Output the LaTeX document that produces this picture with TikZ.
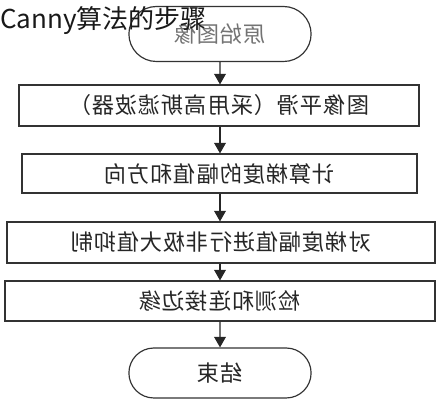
\documentclass[tikz,border=0pt]{standalone}
\usepackage{fontspec}
\usepackage{graphicx}
\usetikzlibrary{shapes.misc}
\usetikzlibrary{positioning}
\usetikzlibrary{arrows.meta}
\newfontfamily\cjk{Noto Sans CJK SC}
\newfontfamily\cjkwide[LetterSpace=4]{Noto Sans CJK SC}
\newcommand{\mirror}[1]{\reflectbox{#1}}

\begin{document}
\begin{tikzpicture}[x=0.03cm, y=-0.03cm,
    stepbox/.style={draw=black!80, line width=1pt, rectangle, align=center, minimum height=1.2cm, font=\cjkwide\fontsize{19}{21}\selectfont, text=black!85},
    termbox/.style={draw=black!80, line width=1pt, rounded rectangle, minimum width=5.7cm, font=\cjkwide\fontsize{19}{21}\selectfont},
    flow/.style={-{Triangle[length=9pt,width=10pt]}, line width=1.1pt, draw=black!85}]
            \useasboundingbox (0,0) rectangle (439,400);
            % Start and end
            \node[termbox, minimum height=1.65cm, text=black!55] (start) at (220,34) {\mirror{原始图像}};
            \node[termbox, minimum height=1.5cm, text=black!85] (finish) at (220,373) {\mirror{结束}};
            
            % Four steps
            \node[stepbox, minimum width=12cm, minimum height=1.23cm] (smooth) at (219,105.5) {\mirror{图像平滑（采用高斯滤波器）}};
            \node[stepbox, minimum width=11.85cm, minimum height=1.17cm] (grad) at (219.5,173.5) {\mirror{计算梯度的幅值和方向}};
            \node[stepbox, minimum width=12.84cm, minimum height=1.23cm] (nms) at (221,242.5) {\mirror{对梯度幅值进行非极大值抑制}};
            \node[stepbox, minimum width=12.9cm, minimum height=1.2cm] (edge) at (220,301) {\mirror{检测和连接边缘}};
            
            % Arrows between steps
            \draw[flow] (start) -- (start |- smooth.north);
            \draw[flow] (start |- smooth.south) -- (start |- grad.north);
            \draw[flow] (start |- grad.south) -- (start |- nms.north);
            \draw[flow] (start |- nms.south) -- (start |- edge.north);
            \draw[flow] (start |- edge.south) -- (finish);
            
            % Title
            \node[anchor=west, inner sep=0pt, font=\cjk\fontsize{22.2}{24}\selectfont, text=black!90] (title) at (0,21) {Canny算法的步骤};
        \end{tikzpicture}
\end{document}
